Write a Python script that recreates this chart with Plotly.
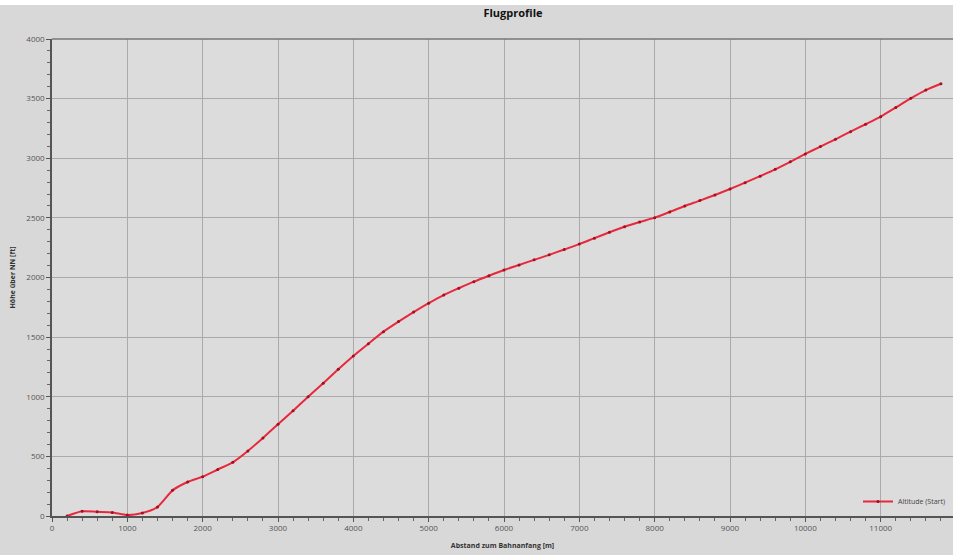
import plotly.graph_objects as go

distance_m = [200, 400, 600, 800, 1000, 1200, 1400, 1600, 1800, 2000, 2200, 2400, 2600, 2800,
              3000, 3200, 3400, 3600, 3800, 4000, 4200, 4400, 4600, 4800, 5000, 5200, 5400,
              5600, 5800, 6000, 6200, 6400, 6600, 6800, 7000, 7200, 7400, 7600, 7800, 8000,
              8200, 8400, 8600, 8800, 9000, 9200, 9400, 9600, 9800, 10000, 10200, 10400,
              10600, 10800, 11000, 11200, 11400, 11600, 11800]
altitude_ft = [0, 40, 35, 30, 8, 25, 75, 215, 285, 330, 390, 450, 545, 655,
               770, 883, 1000, 1113, 1230, 1342, 1445, 1546, 1630, 1710, 1785, 1853, 1910,
               1965, 2015, 2063, 2105, 2148, 2190, 2235, 2280, 2330, 2379, 2425, 2465, 2502,
               2550, 2600, 2645, 2692, 2742, 2795, 2850, 2907, 2970, 3036, 3098, 3159,
               3223, 3285, 3349, 3425, 3503, 3572, 3625]
series_name = "Altitude (Start)"
chart_title = "Flugprofile"
x_title = "Abstand zum Bahnanfang [m]"
y_title = "Höhe über NN [ft]"

FONT = "Open Sans"

fig = go.Figure()
fig.add_trace(go.Scatter(
    x=distance_m, y=altitude_ft, mode="lines+markers", name=series_name,
    line=dict(color="#e8283c", width=2, shape="spline", smoothing=0.6),
    marker=dict(size=3, color="#a0101e"),
))

W, H = 953, 555
L, R, T, B = 52, 0, 39, 39
plot_w = W - L - R
plot_h = H - T - B
x_max = 12000 * plot_w / 904.0

fig.update_layout(
    width=W, height=H,
    margin=dict(l=L, r=R, t=T, b=B, autoexpand=False),
    paper_bgcolor="#d8d8d8",
    plot_bgcolor="#dcdcdc",
    font=dict(family=FONT, size=8, color="#555555"),
    title=dict(text="<b>" + chart_title + "</b>", x=513 / W, xanchor="center",
               y=1 - 13 / H, yanchor="middle", automargin=False,
               font=dict(family=FONT, size=11, color="#111111")),
    showlegend=True,
    legend=dict(x=(950 - L) / plot_w, xanchor="right", y=0.0, yanchor="bottom",
                bgcolor="rgba(0,0,0,0)", font=dict(size=7, color="#444444"),
                itemwidth=30),
    xaxis=dict(
        range=[0, x_max], tickmode="linear", tick0=0, dtick=1000, tickformat="d",
        automargin=False,
        showgrid=True, gridcolor="#aaaaaa", gridwidth=1,
        showline=True, linecolor="#555555", linewidth=1.5,
        ticks="outside", ticklen=4, tickcolor="#555555",
        minor=dict(dtick=200, ticks="outside", ticklen=3, tickcolor="#666666", showgrid=False),
        zeroline=False,
        tickfont=dict(size=8, color="#555555"),
        title=dict(text="<b>" + x_title + "</b>", font=dict(size=7, color="#333333"), standoff=11),
    ),
    yaxis=dict(
        range=[0, 4000], tickmode="linear", tick0=0, dtick=500, tickformat="d",
        automargin=False,
        showgrid=True, gridcolor="#aaaaaa", gridwidth=1,
        showline=True, linecolor="#555555", linewidth=1.5, mirror=False,
        ticks="outside", ticklen=4, tickcolor="#555555",
        minor=dict(dtick=100, ticks="outside", ticklen=3, tickcolor="#666666", showgrid=False),
        zeroline=False,
        tickfont=dict(size=8, color="#555555"),
        title=dict(text="<b>" + y_title + "</b>", font=dict(size=7, color="#333333"), standoff=10),
    ),
    shapes=[
        dict(type="line", xref="paper", yref="paper", x0=0, x1=1, y0=1, y1=1,
             line=dict(color="#777777", width=1.5)),
        dict(type="rect", xref="paper", yref="paper", x0=-L / plot_w, x1=1,
             y0=1 + (T - 5) / plot_h, y1=1 + T / plot_h + 0.01,
             fillcolor="#ffffff", line=dict(width=0), layer="above"),
    ],
)

fig.write_html(
    "out.html",
    config={"displayModeBar": False},
    post_script="document.body.style.margin='0';document.body.style.overflow='hidden';",
)
